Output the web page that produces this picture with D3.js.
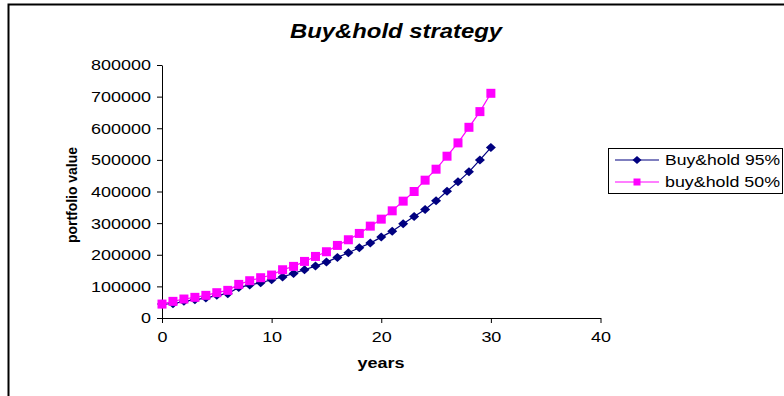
<!DOCTYPE html>
<html>
<head>
<meta charset="utf-8">
<script src="https://cdn.jsdelivr.net/npm/d3@7/dist/d3.min.js"></script>
<style>
  html, body { margin: 0; padding: 0; background: #fff; }
  svg { display: block; font-family: "Liberation Sans", Arial, sans-serif; }
</style>
</head>
<body>
<svg id="chart" width="784" height="396"></svg>
<script>
// Portfolio value by year for two buy & hold allocations
const years = d3.range(0, 31);
const hold95 = [44000, 45000, 52600, 57900, 63000, 71600, 76800, 96800, 104200, 111600,
  121000, 129500, 141000, 152600, 164200, 176800, 191600, 206300, 222100, 236800,
  255800, 274700, 297900, 321000, 343200, 370500, 401000, 430500, 462100, 500000, 538900];
const hold50 = [44000, 52600, 60000, 65300, 71600, 80000, 87400, 106300, 117900, 127400,
  135800, 152600, 163200, 178900, 194700, 209500, 229500, 247400, 267400, 290500,
  312600, 338900, 369500, 400000, 435800, 470500, 511600, 553700, 603000, 652600, 710500];
const xTicks = [0, 10, 20, 30, 40];
const yTicks = [0, 100000, 200000, 300000, 400000, 500000, 600000, 700000, 800000];
const seriesNames = ["Buy&hold 95%", "buy&hold 50%"];

const svg = d3.select("#chart");

// outer chart frame
svg.append("path")
  .attr("d", "M8.5,396 L8.5,4.5 L790,4.5")
  .attr("fill", "none").attr("stroke", "#000").attr("stroke-width", 2);

const x = d3.scaleLinear().domain([0, 40]).range([162, 600.5]);
const y = d3.scaleLinear().domain([0, 800000]).range([318, 65]);

// the chart's text is set slightly wide: stretch each string to a width per character
const DIGIT_W = 10;

// title
svg.append("text")
  .attr("x", 396).attr("y", 38)
  .attr("text-anchor", "middle")
  .attr("font-size", 20).attr("font-weight", "bold").attr("font-style", "italic")
  .attr("textLength", 212).attr("lengthAdjust", "spacingAndGlyphs")
  .text("Buy&hold strategy");

// axes
const xAxis = svg.append("g")
  .attr("transform", `translate(0,${y(0)})`)
  .call(d3.axisBottom(x).tickValues(xTicks).tickSize(5).tickSizeOuter(0).tickPadding(6));
const yAxis = svg.append("g")
  .attr("transform", `translate(${x(0)},0)`)
  .call(d3.axisLeft(y).tickValues(yTicks).tickSize(5).tickSizeOuter(0).tickPadding(6)
    .tickFormat(d3.format("d")));
[xAxis, yAxis].forEach(g => {
  g.select(".domain").attr("stroke", "#000");
  g.selectAll(".tick line").attr("stroke", "#000");
  g.selectAll(".tick text")
    .attr("font-family", "Liberation Sans, Arial, sans-serif")
    .attr("font-size", 14).attr("fill", "#000")
    .attr("lengthAdjust", "spacingAndGlyphs")
    .attr("textLength", function () { return this.textContent.length * DIGIT_W; });
});
xAxis.selectAll(".tick text").attr("dy", "0.95em");
yAxis.selectAll(".tick text").attr("dy", "0.35em");

// axis titles
svg.append("text")
  .attr("x", 381).attr("y", 368)
  .attr("text-anchor", "middle")
  .attr("font-size", 14).attr("font-weight", "bold")
  .attr("textLength", 47).attr("lengthAdjust", "spacingAndGlyphs")
  .text("years");
svg.append("text")
  .attr("transform", "translate(77,195) rotate(-90)")
  .attr("text-anchor", "middle")
  .attr("font-size", 14).attr("font-weight", "bold")
  .attr("textLength", 96).attr("lengthAdjust", "spacingAndGlyphs")
  .text("portfolio value");

const line = d3.line().x((d, i) => x(years[i])).y(d => y(d));

const blue = "#000080", pink = "#FF00FF";

function diamond(g, cx, cy, rx, ry) {
  g.append("path")
    .attr("d", `M${cx},${cy - ry} L${cx + rx},${cy} L${cx},${cy + ry} L${cx - rx},${cy} Z`)
    .attr("fill", blue);
}
function square(g, cx, cy, h) {
  g.append("rect")
    .attr("x", cx - h).attr("y", cy - h).attr("width", 2 * h).attr("height", 2 * h)
    .attr("fill", pink);
}

// navy series
const g95 = svg.append("g");
g95.append("path").datum(hold95).attr("d", line)
  .attr("fill", "none").attr("stroke", blue).attr("stroke-width", 1.2);
hold95.forEach((v, i) => diamond(g95, x(years[i]), y(v), 5, 4.5));

// magenta series
const g50 = svg.append("g");
g50.append("path").datum(hold50).attr("d", line)
  .attr("fill", "none").attr("stroke", pink).attr("stroke-width", 1.2);
hold50.forEach((v, i) => square(g50, x(years[i]), y(v), 4.5));

// legend
const lg = svg.append("g");
lg.append("rect")
  .attr("x", 608.5).attr("y", 148.5).attr("width", 174).attr("height", 45)
  .attr("fill", "#fff").attr("stroke", "#000").attr("stroke-width", 1);
const rows = [
  { name: seriesNames[0], color: blue, ly: 160,
    draw: (g, cx, cy) => diamond(g, cx, cy, 4.5, 4) },
  { name: seriesNames[1], color: pink, ly: 182,
    draw: (g, cx, cy) => square(g, cx, cy, 3.5) }
];
rows.forEach(r => {
  lg.append("line").attr("x1", 615).attr("x2", 659).attr("y1", r.ly).attr("y2", r.ly)
    .attr("stroke", r.color).attr("stroke-width", 1.2);
  r.draw(lg, 637, r.ly);
  lg.append("text").attr("x", 665).attr("y", r.ly).attr("dy", "0.36em")
    .attr("font-size", 15)
    .attr("textLength", 115).attr("lengthAdjust", "spacingAndGlyphs")
    .text(r.name);
});
</script>
</body>
</html>
